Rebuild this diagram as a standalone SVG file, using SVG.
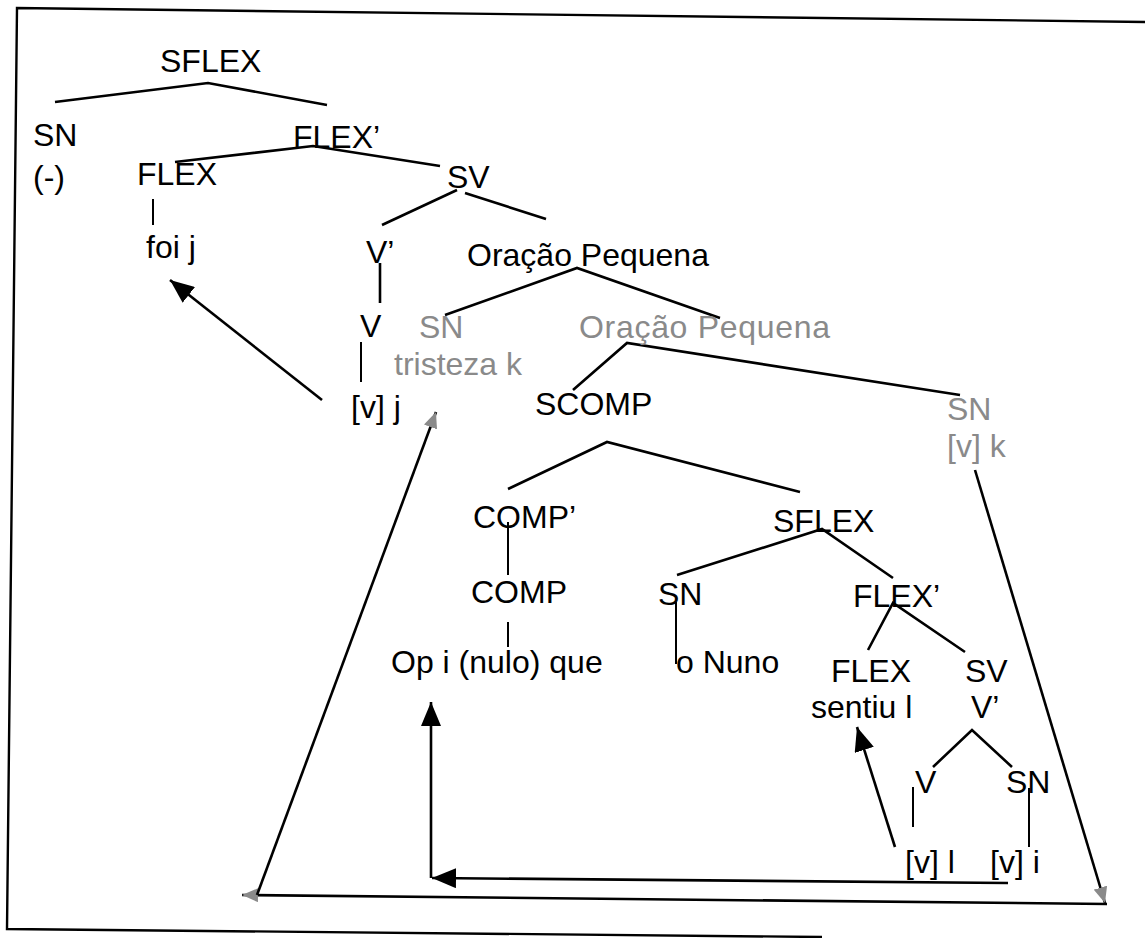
<svg xmlns="http://www.w3.org/2000/svg" width="1145" height="938" viewBox="0 0 1145 938">
<defs>
<style>
text{font-family:"Liberation Sans",Arial,sans-serif;font-size:32px;fill:#000}
text.g{fill:#8a8a8a}
.ln{fill:none;stroke:#000;stroke-width:2.6;stroke-linejoin:miter}
.thin{fill:none;stroke:#000;stroke-width:2}
.frame{fill:none;stroke:#000;stroke-width:2.4}
</style>
<marker id="ah" viewBox="0 0 24 20" refX="24" refY="10" markerWidth="24" markerHeight="20" markerUnits="userSpaceOnUse" orient="auto"><path d="M0,0 L24,10 L0,20 z" fill="#000"/></marker>
<marker id="gh" viewBox="0 0 16 14" refX="16" refY="7" markerWidth="16" markerHeight="14" markerUnits="userSpaceOnUse" orient="auto"><path d="M0,0 L16,7 L0,14 z" fill="#8a8a8a"/></marker>
</defs>
<rect width="1145" height="938" fill="#fff"/>
<path class="frame" d="M1145,22 L17,8 L7,929 L822,937"/>
<g id="connectors">
<polyline class="ln" points="55,102 208,83 327,105"/>
<polyline class="ln" points="175,162 313,146 440,166"/>
<line class="thin" x1="153" y1="199" x2="153" y2="225"/>
<line class="ln" x1="457" y1="190" x2="382" y2="225"/>
<line class="ln" x1="465" y1="193" x2="546" y2="219"/>
<line class="ln" x1="380" y1="263" x2="380" y2="303"/>
<line class="thin" x1="361" y1="342" x2="361" y2="382"/>
<polyline class="ln" points="445,315 577,268 720,318"/>
<polyline class="ln" points="573,390 627,343 960,395"/>
<polyline class="ln" points="508,489 607,442 800,492"/>
<line class="thin" x1="508" y1="522" x2="508" y2="575"/>
<line class="thin" x1="508" y1="622" x2="508" y2="647"/>
<polyline class="ln" points="677,575 822,529 893,578"/>
<line class="thin" x1="676" y1="602" x2="676" y2="664"/>
<polyline class="ln" points="868,650 893,603 965,652"/>
<polyline class="ln" points="933,767 972,730 1012,767"/>
<line class="thin" x1="913" y1="787" x2="913" y2="827"/>
<line class="thin" x1="1029" y1="788" x2="1029" y2="847"/>
<line class="ln" x1="322" y1="400" x2="170" y2="280" marker-end="url(#ah)"/>
<line class="ln" x1="895" y1="847" x2="857" y2="727" marker-end="url(#ah)"/>
<line class="ln" x1="1008" y1="883" x2="432" y2="878" marker-end="url(#ah)"/>
<line class="ln" x1="431" y1="878" x2="431" y2="702" marker-end="url(#ah)"/>
<line class="ln" x1="975" y1="470" x2="1105" y2="903" marker-end="url(#gh)"/>
<line class="ln" x1="1107" y1="904" x2="242" y2="895" marker-end="url(#gh)"/>
<line class="ln" x1="257" y1="895" x2="436" y2="412" marker-end="url(#gh)"/>
</g>
<g id="n-sflex1"><text x="160" y="72">SFLEX</text></g>
<g id="n-sn1"><text x="33" y="146">SN</text><text x="33" y="188">(-)</text></g>
<g id="n-flexbar1"><text x="293" y="148">FLEX’</text></g>
<g id="n-flex1"><text x="137" y="185">FLEX</text></g>
<g id="n-foij"><text x="146" y="258">foi j</text></g>
<g id="n-sv1"><text x="447" y="188">SV</text></g>
<g id="n-vbar1"><text x="366" y="263">V’</text></g>
<g id="n-v1"><text x="360" y="337">V</text></g>
<g id="n-vj"><text x="351" y="418">[v] j</text></g>
<g id="n-op1"><text x="467" y="266">Oração Pequena</text></g>
<g id="n-sn2"><text class="g" x="419" y="338">SN</text><text class="g" x="394" y="375">tristeza k</text></g>
<g id="n-op2"><text class="g" x="579" y="338" textLength="251">Oração Pequena</text></g>
<g id="n-scomp"><text x="535" y="415">SCOMP</text></g>
<g id="n-sn3"><text class="g" x="947" y="420">SN</text><text class="g" x="947" y="457">[v] k</text></g>
<g id="n-compbar"><text x="473" y="528">COMP’</text></g>
<g id="n-comp"><text x="471" y="603">COMP</text></g>
<g id="n-op"><text x="391" y="673">Op i (nulo) que</text></g>
<g id="n-sflex2"><text x="773" y="532">SFLEX</text></g>
<g id="n-sn4"><text x="658" y="605">SN</text></g>
<g id="n-onuno"><text x="676" y="673">o Nuno</text></g>
<g id="n-flexbar2"><text x="853" y="607">FLEX’</text></g>
<g id="n-flex2"><text x="831" y="682">FLEX</text><text x="811" y="718">sentiu l</text></g>
<g id="n-sv2"><text x="965" y="682">SV</text><text x="971" y="718">V’</text></g>
<g id="n-v2"><text x="915" y="793">V</text></g>
<g id="n-sn5"><text x="1006" y="793">SN</text></g>
<g id="n-vl"><text x="905" y="873">[v] l</text></g>
<g id="n-vi"><text x="990" y="873">[v] i</text></g>
</svg>
